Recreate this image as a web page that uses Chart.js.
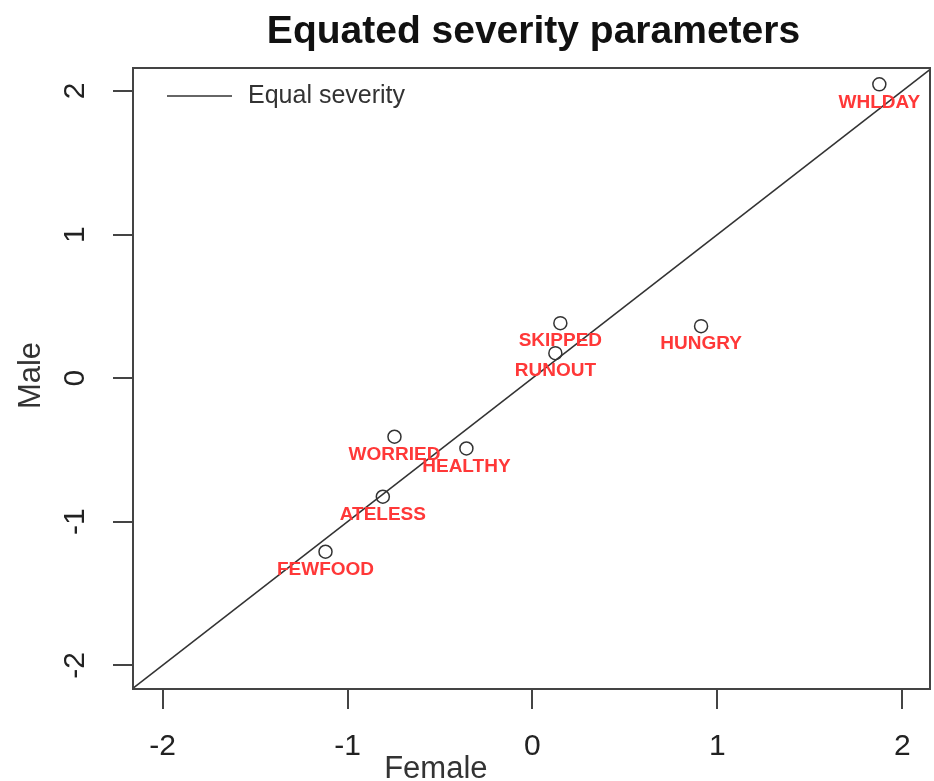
<!DOCTYPE html>
<html lang="en">
<head>
<meta charset="UTF-8">
<title>Equated severity parameters</title>
<script src="https://cdn.jsdelivr.net/npm/chart.js@4.4.1/dist/chart.umd.min.js"></script>
<style>
  html, body { margin: 0; padding: 0; background: #fff; overflow: hidden; }
  #wrap { width: 934px; height: 781px; position: relative; }
</style>
</head>
<body>
<div id="wrap"><canvas id="myChart"></canvas></div>
<script>
// item severity parameters
const itemNames = ['WHLDAY', 'HUNGRY', 'SKIPPED', 'RUNOUT', 'WORRIED', 'HEALTHY', 'ATELESS', 'FEWFOOD'];
const femaleSeverity = [1.876, 0.912, 0.151, 0.124, -0.746, -0.357, -0.809, -1.119];
const maleSeverity = [2.046, 0.362, 0.383, 0.174, -0.408, -0.490, -0.826, -1.209];
const equalLine = [-3, 3];          // y = x reference line, clipped to the plot
const tickValues = [-2, -1, 0, 1, 2];
const xRange = [-2.16, 2.15];
const yRange = [-2.165, 2.16];

const FONT = "'Liberation Sans', Arial, sans-serif";

// frame, titles, legend and red item labels (R-style base plot)
const decor = {
    id: 'decor',
    afterDatasetsDraw(chart) {
        const ctx = chart.ctx;
        const area = chart.chartArea;
        const xs = chart.scales.x, ys = chart.scales.y;
        ctx.save();

        // item labels under each point
        ctx.font = 'bold 19px ' + FONT;
        ctx.fillStyle = '#ff3838';
        ctx.textAlign = 'center';
        ctx.textBaseline = 'middle';
        itemNames.forEach((name, i) => {
            const px = xs.getPixelForValue(femaleSeverity[i]);
            const py = ys.getPixelForValue(maleSeverity[i]);
            ctx.fillText(name, px, py + 18);
        });

        // box
        ctx.strokeStyle = '#444';
        ctx.lineWidth = 2;
        ctx.strokeRect(area.left, area.top, area.right - area.left, area.bottom - area.top);

        // legend
        const ly = area.top + 28;
        ctx.strokeStyle = '#333';
        ctx.lineWidth = 1.5;
        ctx.beginPath();
        ctx.moveTo(area.left + 34, ly);
        ctx.lineTo(area.left + 99, ly);
        ctx.stroke();
        ctx.font = '25px ' + FONT;
        ctx.fillStyle = '#333';
        ctx.textAlign = 'left';
        ctx.fillText('Equal severity', area.left + 115, ly);

        // main title
        ctx.font = 'bold 39px ' + FONT;
        ctx.fillStyle = '#111';
        ctx.textAlign = 'center';
        ctx.textBaseline = 'alphabetic';
        ctx.fillText('Equated severity parameters', (area.left + area.right) / 2 + 2, 43);

        // axis titles
        ctx.font = '31px ' + FONT;
        ctx.fillStyle = '#333';
        ctx.fillText('Female', area.left + 0.38 * (area.right - area.left), 778);
        ctx.translate(31, (area.top + area.bottom) / 2 - 3);
        ctx.rotate(-Math.PI / 2);
        ctx.textBaseline = 'middle';
        ctx.fillText('Male', 0, 0);

        ctx.restore();
    }
};

const fixedTicks = scale => { scale.ticks = tickValues.map(v => ({ value: v })); };

const ctx = document.getElementById('myChart').getContext('2d');
const myChart = new Chart(ctx, {
    type: 'scatter',
    data: {
        datasets: [
            {
                label: 'Items',
                data: femaleSeverity.map((v, i) => ({ x: v, y: maleSeverity[i] })),
                pointStyle: 'circle',
                pointRadius: 6.5,
                pointBorderWidth: 1.5,
                borderColor: '#333',
                backgroundColor: 'rgba(0,0,0,0)'
            },
            {
                label: 'Equal severity',
                data: equalLine.map(v => ({ x: v, y: v })),
                showLine: true,
                pointRadius: 0,
                borderColor: '#333',
                borderWidth: 1.5
            }
        ]
    },
    options: {
        responsive: true,
        maintainAspectRatio: false,
        animation: false,
        devicePixelRatio: 1,
        layout: { autoPadding: false, padding: { top: 68, right: 4, bottom: 0, left: 0 } },
        plugins: {
            legend: { display: false },
            tooltip: { enabled: false },
            title: { display: false }
        },
        scales: {
            x: {
                type: 'linear',
                min: xRange[0],
                max: xRange[1],
                afterBuildTicks: fixedTicks,
                afterFit: s => { s.height = 92; s.paddingLeft = 0; s.paddingRight = 0; },
                border: { display: false },
                grid: { drawOnChartArea: false, drawTicks: true, tickLength: 20, color: '#444', lineWidth: 2 },
                ticks: { font: { size: 30, family: FONT }, color: '#222', padding: 20 }
            },
            y: {
                type: 'linear',
                min: yRange[0],
                max: yRange[1],
                afterBuildTicks: fixedTicks,
                afterFit: s => { s.width = 133; s.paddingTop = 0; s.paddingBottom = 0; },
                border: { display: false },
                grid: { drawOnChartArea: false, drawTicks: true, tickLength: 20, color: '#444', lineWidth: 2 },
                ticks: {
                    font: { size: 30, family: FONT },
                    color: '#222',
                    minRotation: 90,
                    maxRotation: 90,
                    crossAlign: 'center',
                    padding: 24
                }
            }
        }
    },
    plugins: [decor]
});
</script>
</body>
</html>
